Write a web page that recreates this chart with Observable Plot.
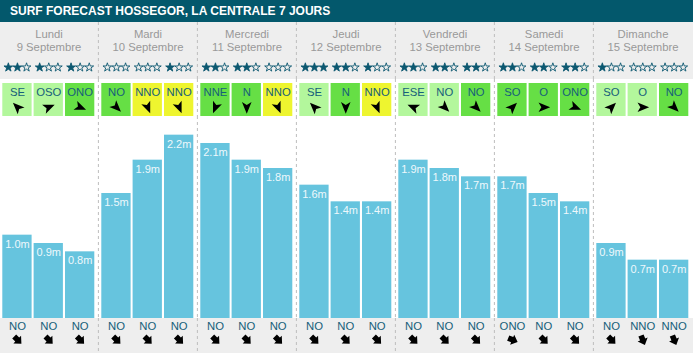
<!DOCTYPE html>
<html>
<head>
<meta charset="utf-8">
<script src="https://cdn.jsdelivr.net/npm/d3@7"></script>
<script src="https://cdn.jsdelivr.net/npm/@observablehq/plot@0.6"></script>
<style>
  html, body { margin: 0; padding: 0; background: #ffffff; }
  #title {
    height: 22px; background: #03586c; color: #ffffff;
    font: bold 12px "Liberation Sans", Arial, sans-serif;
    line-height: 22px; padding-left: 10px; white-space: nowrap; overflow: hidden;
  }
  #chart svg { display: block; }
</style>
</head>
<body>
<div id="title">SURF FORECAST HOSSEGOR, LA CENTRALE 7 JOURS</div>
<div id="chart"></div>
<script>
// ---------- data ----------
const days = ["Lundi", "Mardi", "Mercredi", "Jeudi", "Vendredi", "Samedi", "Dimanche"];
const dates = ["9 Septembre", "10 Septembre", "11 Septembre", "12 Septembre", "13 Septembre", "14 Septembre", "15 Septembre"];
// three forecasts per day
const waveHeights = [1.0, 0.9, 0.8, 1.5, 1.9, 2.2, 2.1, 1.9, 1.8, 1.6, 1.4, 1.4, 1.9, 1.8, 1.7, 1.7, 1.5, 1.4, 0.9, 0.7, 0.7];
const starRatings = [2, 1, 1, 0, 0, 1, 2, 2, 0, 3, 2, 1, 2, 2, 2, 2, 2, 2, 1, 0, 0];
const windDirs = ["SE", "OSO", "ONO", "NO", "NNO", "NNO", "NNE", "N", "NNO", "SE", "N", "NNO", "ESE", "NO", "NO", "SO", "O", "ONO", "SO", "O", "NO"];
const windLevels = ["léger", "léger", "modéré", "modéré", "fort", "fort", "modéré", "modéré", "fort", "léger", "modéré", "fort", "léger", "léger", "modéré", "modéré", "modéré", "modéré", "léger", "léger", "modéré"];
const swellDirs = ["NO", "NO", "NO", "NO", "NO", "NO", "NO", "NO", "NO", "NO", "NO", "NO", "NO", "NO", "NO", "ONO", "NO", "NO", "NO", "NNO", "NNO"];
const levelNames = ["léger", "modéré", "fort"];
const compass = {N: 0, NNE: 22.5, NE: 45, ENE: 67.5, E: 90, ESE: 112.5, SE: 135, SSE: 157.5, S: 180, SSO: 202.5, SO: 225, OSO: 247.5, O: 270, ONO: 292.5, NO: 315, NNO: 337.5};

// ---------- derived table ----------
const slots = d3.range(waveHeights.length);
const rows = slots.map(i => ({
  i, day: Math.floor(i / 3), pos: i % 3,
  h: waveHeights[i], stars: starRatings[i],
  wind: windDirs[i], level: windLevels[i], swell: swellDirs[i]
}));
const dayRows = days.map((d, k) => ({day: d, date: dates[k], i: k * 3 + 1}));
const seps = d3.range(1, days.length).map(k => k * 3);
const starRows = rows.flatMap(r => [0, 1, 2].map(k => ({i: r.i, pos: r.pos, k, filled: k < r.stars})));

// ---------- layout / style ----------
const W = 693;
const xRange = [-2.9, 694.3];
const bw = (xRange[1] - xRange[0]) / slots.length;
const insets = [[3.3, 0.4], [1.6, 2.1], [0, 3.7]];
const shift = insets.map(([l, r]) => (l - r) / 2);
const FONT = "'Liberation Sans', Arial, Helvetica, sans-serif";
const teal = "#16607a";
const starColor = "#0c5870";
const xScale = {type: "band", domain: slots, range: xRange, padding: 0, axis: null};
const base = (height, bg) => ({
  width: W, height, marginTop: 0, marginBottom: 0, marginLeft: 0, marginRight: 0,
  x: xScale,
  style: {background: bg, fontFamily: FONT, overflow: "visible"}
});
const sepMark = () => Plot.ruleX(seps, {x: d => d, dx: -bw / 2, stroke: "#bdbdbd", strokeWidth: 1, strokeDasharray: "3,3"});
const perPos = fn => [0, 1, 2].map(p => fn(rows.filter(r => r.pos === p), p));

// custom symbols (polygon shapes in px, rotated clockwise by angle deg; 0 = pointing right)
const polySymbol = (pts, angle) => ({
  draw(ctx) {
    const a = angle * Math.PI / 180, c = Math.cos(a), s = Math.sin(a);
    pts.forEach(([x, y], j) => {
      const X = x * c - y * s, Y = x * s + y * c;
      j ? ctx.lineTo(X, Y) : ctx.moveTo(X, Y);
    });
    ctx.closePath();
  }
});
const windHead = [[6.4, 0], [-5.2, -4.8], [-2.4, 0], [-5.2, 4.8]];
const swellArrow = [[-4.6, -2.8], [-0.3, -2.8], [-0.3, -5.4], [5.6, 0], [-0.3, 5.4], [-0.3, 2.8], [-4.6, 2.8]];
const arrowMarks = (field, shape, dy) =>
  Array.from(d3.group(rows, r => r.pos, r => r[field]), ([p, byDir]) =>
    Array.from(byDir, ([dir, data]) => Plot.dot(data, {
      x: "i", frameAnchor: "top", dy, dx: shift[p], r: 1,
      symbol: polySymbol(shape, compass[dir] + 90), fill: "#000000", stroke: "none"
    }))).flat();

// ---------- header: days, dates, stars ----------
const header = Plot.plot({
  ...base(57, "#eeeeee"),
  marks: [
    sepMark(),
    Plot.text(dayRows, {x: "i", text: "day", frameAnchor: "top", lineAnchor: "middle", dy: 12.2, fill: "#999999", fontSize: 11.3}),
    Plot.text(dayRows, {x: "i", text: "date", frameAnchor: "top", lineAnchor: "middle", dy: 25.3, fill: "#999999", fontSize: 11.3}),
    ...[0, 1, 2].flatMap(p => [true, false].flatMap(filled => [0, 1, 2].map(k => Plot.dot(
      starRows.filter(d => d.pos === p && d.k === k && d.filled === filled), {
        x: "i", frameAnchor: "top", dy: 44.9, dx: shift[p] + (k - 1) * 9.1,
        symbol: "star", r: 2.75,
        fill: filled ? starColor : "none", stroke: starColor, strokeWidth: 0.9
      }))))
  ]
});

// ---------- wind boxes ----------
const wind = Plot.plot({
  ...base(37, "#ffffff"),
  color: {domain: levelNames, range: ["#b3f79c", "#66df45", "#eef52f"]},
  marks: [
    sepMark(),
    ...perPos((data, p) => Plot.cell(data, {x: "i", fill: "level", insetTop: 4, insetLeft: insets[p][0], insetRight: insets[p][1]})),
    ...perPos((data, p) => Plot.text(data, {x: "i", text: "wind", frameAnchor: "top", lineAnchor: "middle", dy: 12.5, dx: shift[p], fill: teal, fontSize: 11.3})),
    ...arrowMarks("wind", windHead, 27.8)
  ]
});

// ---------- wave height bars ----------
const bars = Plot.plot({
  ...base(202, "#ffffff"),
  y: {domain: [0, 2.424], axis: null},
  marks: [
    sepMark(),
    ...perPos((data, p) => Plot.barY(data, {x: "i", y: "h", fill: "#66c4de", insetLeft: insets[p][0], insetRight: insets[p][1]})),
    ...perPos((data, p) => Plot.text(data, {x: "i", y: "h", text: d => d3.format(".1f")(d.h) + "m", lineAnchor: "middle", dy: 9, dx: shift[p], fill: "#eef8fc", fontSize: 11}))
  ]
});

// ---------- swell directions ----------
const footer = Plot.plot({
  ...base(35, "#eeeeee"),
  marks: [
    sepMark(),
    ...perPos((data, p) => Plot.text(data, {x: "i", text: "swell", frameAnchor: "top", lineAnchor: "middle", dy: 7.8, dx: shift[p], fill: teal, fontSize: 11.3})),
    ...arrowMarks("swell", swellArrow, 21.3)
  ]
});

const chart = document.getElementById("chart");
[header, wind, bars, footer].forEach(el => chart.appendChild(el));
</script>
</body>
</html>
